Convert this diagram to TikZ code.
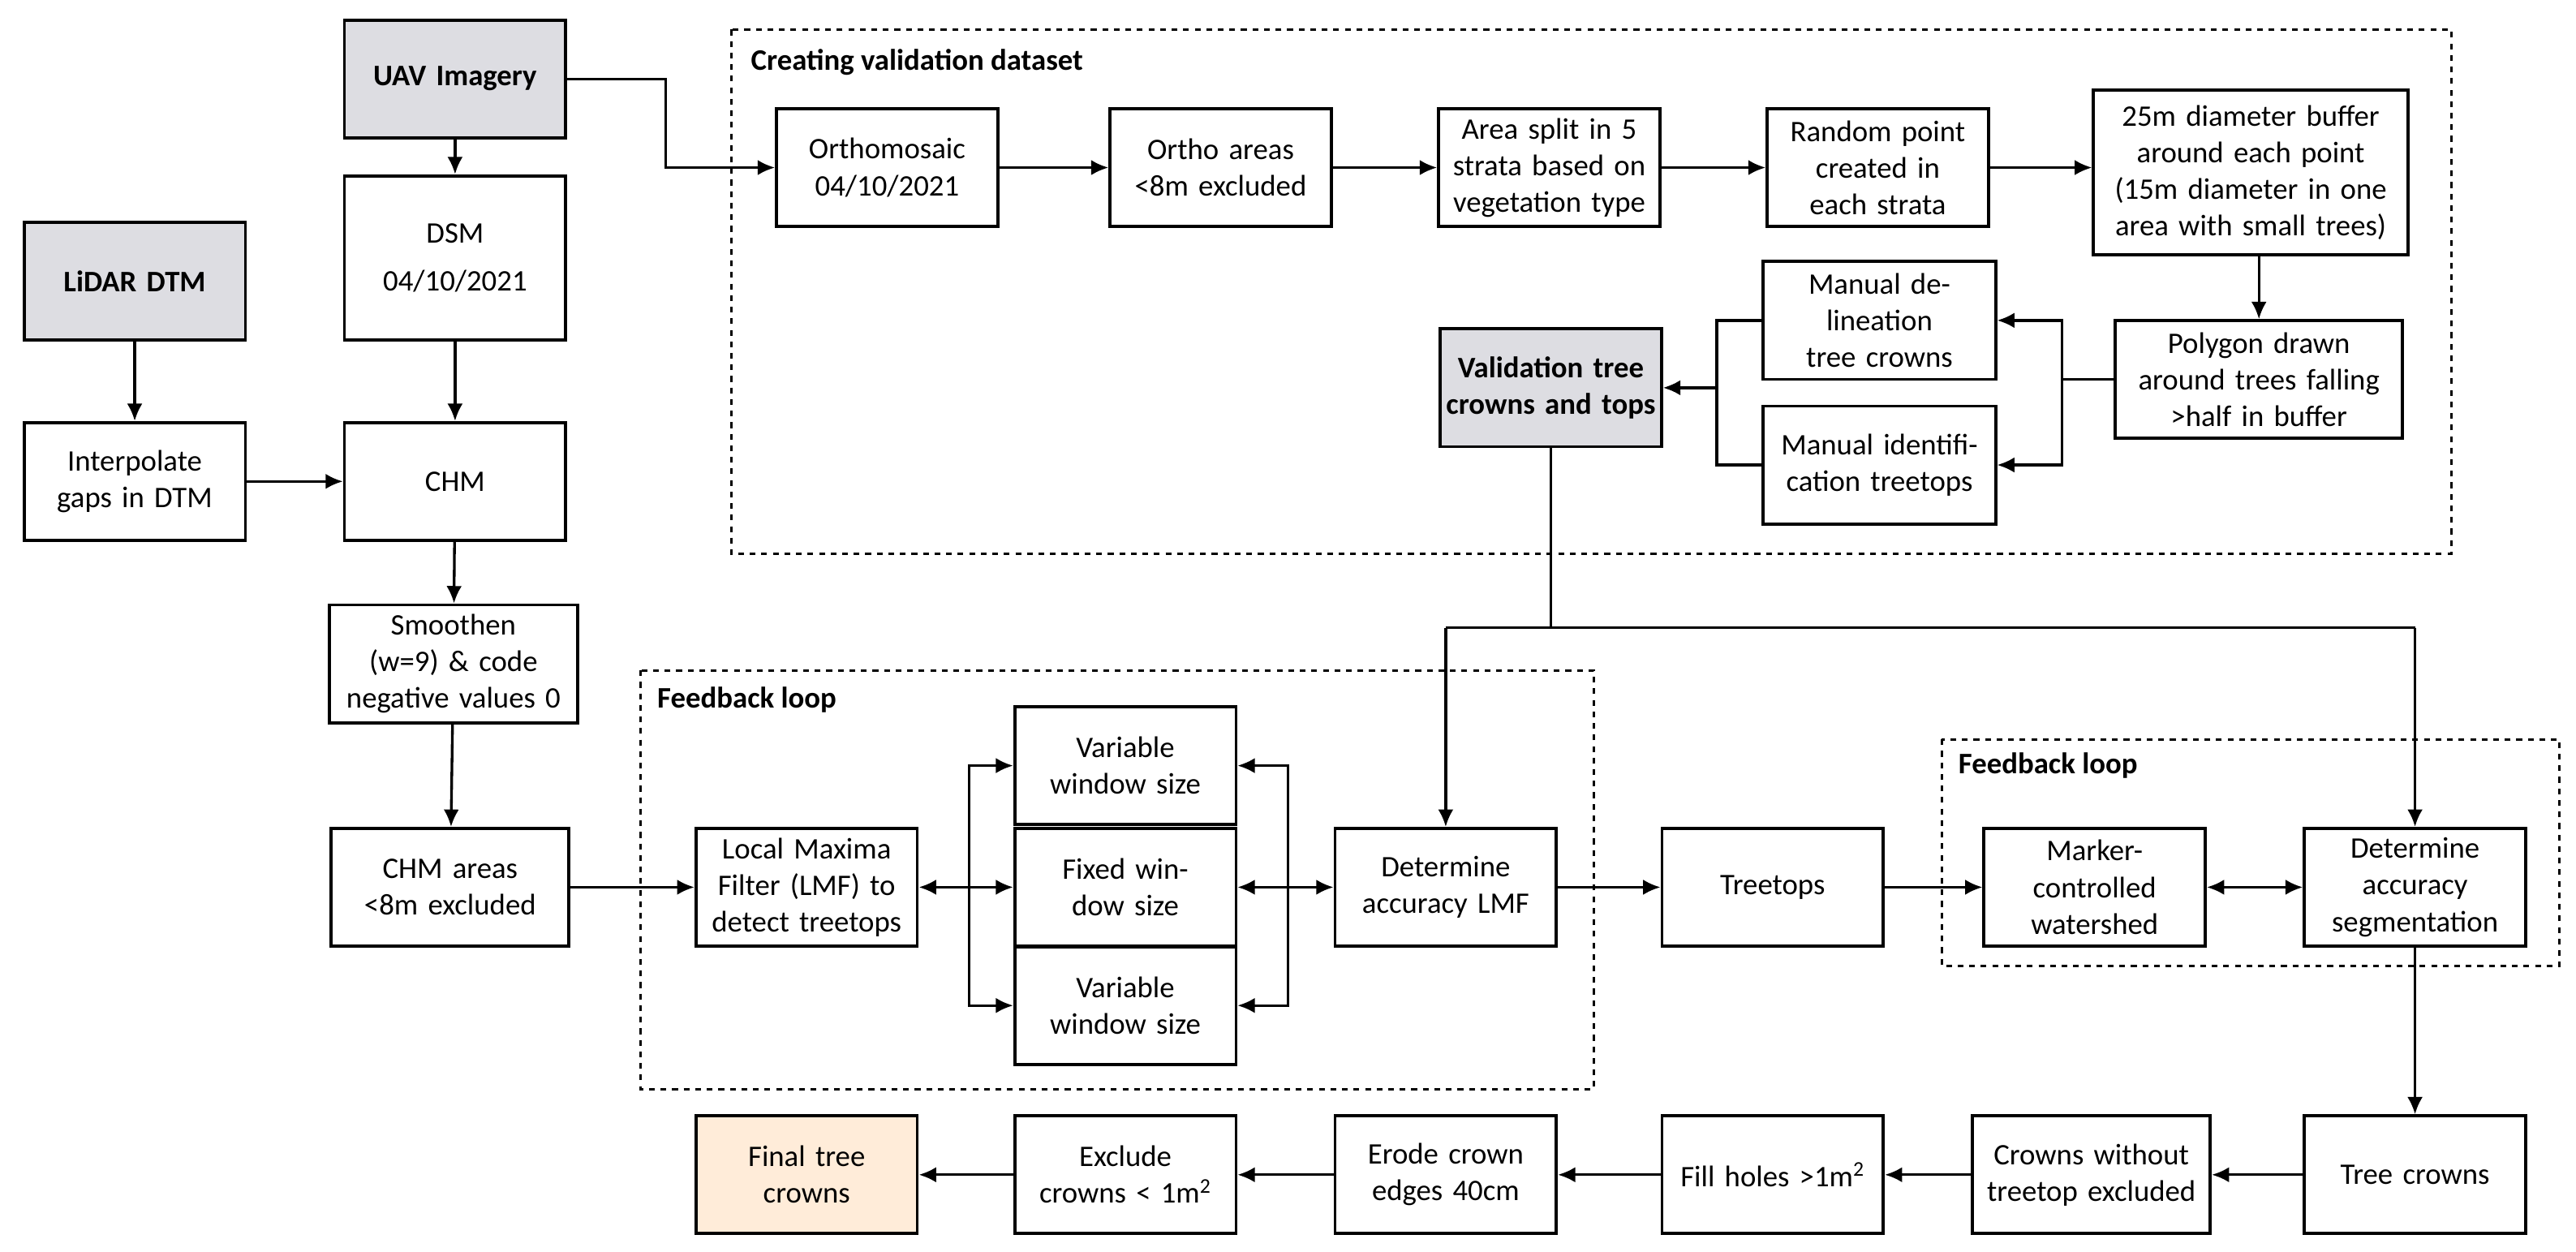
\documentclass[tikz,border=0pt]{standalone}
\usepackage{fontspec}
\setmainfont{Carlito}
\usetikzlibrary{arrows.meta,calc,positioning}

\tikzset{
  proc/.style={draw,line width=1.6pt,fill=white,align=center,text width=#1,minimum height=2.15cm,inner sep=2pt,font=\fontsize{15.5}{19}\selectfont},
  proc/.default=3.9cm,
  src/.style={proc,fill=blue!8!gray!25,font=\fontsize{15.5}{19}\selectfont\bfseries},
  frame/.style={draw,dashed,line width=1.3pt},
  arr/.style={-{Latex[length=9pt,width=8pt]},line width=1.4pt},
  darr/.style={{Latex[length=9pt,width=8pt]}-{Latex[length=9pt,width=8pt]},line width=1.4pt},
  ln/.style={line width=1.4pt},
  ttl/.style={font=\fontsize{15.5}{19}\selectfont\bfseries,anchor=north west}
}

\begin{document}
\begin{tikzpicture}[x=0.03cm,y=-0.03cm]
\useasboundingbox (0,0) rectangle (1568,762);

% frames
\draw[frame] (445,18) rectangle (1492,337);
\node[ttl] at (453,26) {Creating validation dataset};
\draw[frame] (390,408) rectangle (970,663);
\node[ttl] at (396,414) {Feedback loop};
\draw[frame] (1182,450) rectangle (1558,588);
\node[ttl] at (1188,454) {Feedback loop};

% left column
\node[src] (uav) at (277,48) {UAV Imagery};
\node[src] (lidar) at (82,171) {LiDAR DTM};
\node[proc,minimum height=3cm] (dsm) at (277,157) {DSM\\[6pt]04/10/2021};
\node[proc] (interp) at (82,293) {Interpolate gaps in DTM};
\node[proc] (chm) at (277,293) {CHM};
\node[proc=4.4cm] (smooth) at (276,404) {Smoothen (w=9) \& code negative values 0};
\node[proc=4.2cm] (chmex) at (274,540) {CHM areas <8m excluded};

% validation dataset
\node[proc] (ortho) at (540,102) {Orthomosaic 04/10/2021};
\node[proc] (orthoex) at (743,102) {Ortho areas <8m excluded};
\node[proc] (split) at (943,102) {Area split in 5 strata based on vegetation type};
\node[proc] (rand) at (1143,102) {Random point created in each strata};
\node[proc=5.6cm,minimum height=3cm] (buffer) at (1370,105) {25m diameter buffer around each point (15m diameter in one area with small trees)};
\node[proc=5.1cm] (poly) at (1375,231) {Polygon drawn around trees falling >half in buffer};
\node[proc=4.1cm] (deli) at (1144,195) {Manual delineation tree crowns};
\node[proc=4.1cm] (ident) at (1144,283) {Manual identification treetops};
\node[src=4.1cm] (valid) at (944,236) {Validation tree crowns and tops};

% middle row
\node[proc] (lmf) at (491,540) {Local Maxima Filter (LMF) to detect treetops};
\node[proc] (var1) at (685,466) {Variable window size};
\node[proc] (fix) at (685,540) {Fixed window size};
\node[proc] (var2) at (685,612) {Variable window size};
\node[proc] (acclmf) at (880,540) {Determine accuracy LMF};
\node[proc] (tops) at (1079,540) {Treetops};
\node[proc] (water) at (1275,540) {Marker-controlled watershed};
\node[proc] (accseg) at (1470,540) {Determine accuracy segmentation};

% bottom row
\node[proc] (crowns) at (1470,715) {Tree crowns};
\node[proc=4.2cm] (noTop) at (1273,715) {Crowns without treetop excluded};
\node[proc] (fill) at (1079,715) {Fill holes >1m\textsuperscript{2}};
\node[proc] (erode) at (880,715) {Erode crown edges 40cm};
\node[proc] (excl) at (685,715) {Exclude crowns < 1m\textsuperscript{2}};
\node[proc,fill=orange!15] (final) at (491,715) {Final tree crowns};

% connectors left
\draw[arr] (uav) -- (dsm);
\draw[arr] (uav.east) -- ++(60,0) |- (ortho.west);
\draw[arr] (lidar) -- (interp);
\draw[arr] (interp) -- (chm);
\draw[arr] (dsm) -- (chm);
\draw[arr] (chm) -- (smooth);
\draw[arr] (smooth) -- (chmex);
\draw[arr] (chmex) -- (lmf);

% connectors validation
\draw[arr] (ortho) -- (orthoex);
\draw[arr] (orthoex) -- (split);
\draw[arr] (split) -- (rand);
\draw[arr] (rand) -- (buffer.west |- rand);
\draw[arr] (buffer.south -| poly) -- (poly);
\coordinate (pb) at (1255,231);
\draw[ln] (poly.west) -- (pb);
\draw[arr] (pb) |- (deli.east);
\draw[arr] (pb) |- (ident.east);
\coordinate (vb) at (1045,236);
\draw[ln] (deli.west) -| (vb);
\draw[ln] (ident.west) -| (vb);
\draw[arr] (vb) -- (valid.east);
\coordinate (vs) at (944,382);
\draw[ln] (valid.south) -- (vs);
\draw[ln] (vs -| acclmf) -- (vs -| accseg);
\draw[arr] (vs -| acclmf) -- (acclmf.north);
\draw[arr] (vs -| accseg) -- (accseg.north);

% connectors feedback loops
\coordinate (lb) at (590,540);
\coordinate (rb) at (784,540);
\draw[darr] (lmf.east) -- (fix.west);
\draw[arr] (lb) |- (var1.west);
\draw[arr] (lb) |- (var2.west);
\draw[darr] (fix.east) -- (acclmf.west);
\draw[arr] (rb) |- (var1.east);
\draw[arr] (rb) |- (var2.east);
\draw[arr] (acclmf) -- (tops);
\draw[arr] (tops) -- (water);
\draw[darr] (water) -- (accseg);
\draw[arr] (accseg) -- (crowns);

% connectors bottom
\draw[arr] (crowns) -- (noTop);
\draw[arr] (noTop) -- (fill);
\draw[arr] (fill) -- (erode);
\draw[arr] (erode) -- (excl);
\draw[arr] (excl) -- (final);
\end{tikzpicture}
\end{document}
